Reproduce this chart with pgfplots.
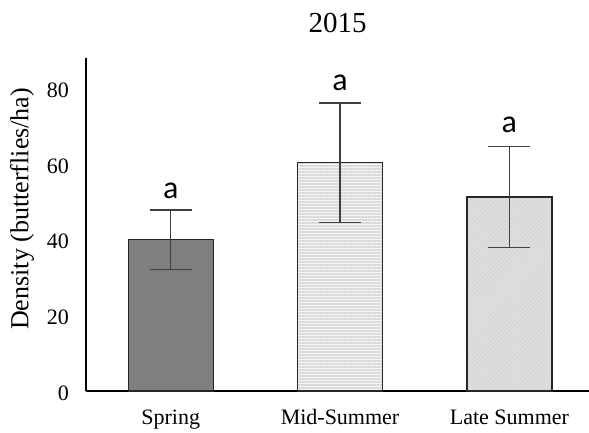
\documentclass[border=0pt]{standalone}
\usepackage{fontspec}
\setmainfont{Liberation Serif}
\newfontfamily\carlito{Carlito}
\usepackage{pgfplots}
\pgfplotsset{compat=1.18}
\usetikzlibrary{patterns.meta}
\definecolor{springfill}{HTML}{7F7F7F}
\definecolor{midfill}{HTML}{F5F5F5}
\definecolor{midline}{HTML}{D9D9D9}
\definecolor{latefill}{HTML}{DFDFDF}
\definecolor{lateline}{HTML}{CFCFCF}
\definecolor{barborder}{HTML}{262626}
\definecolor{errcol}{HTML}{404040}
\begin{document}
\begin{tikzpicture}
\begin{axis}[
  scale only axis,
  width=503bp, height=333bp,
  xmin=-0.5, xmax=2.47,
  ymin=0, ymax=88,
  axis lines*=left,
  axis line style={black, line width=1.2bp},
  xtick={0,1,2},
  xticklabels={Spring, Mid-Summer, Late Summer},
  ytick={0,20,40,60,80},
  major tick length=0pt,
  tick style={draw=none},
  /pgf/number format/assume math mode=true,
  yticklabel style={font=\fontsize{22bp}{26bp}\selectfont, inner sep=0pt, anchor=east, xshift=-17bp, yshift=-2bp},
  xticklabel style={font=\fontsize{22bp}{26bp}\selectfont, inner sep=0pt, anchor=north, text height=15bp, text depth=5bp, yshift=-18bp},
  ylabel={Density (butterflies/ha)},
  ylabel style={font=\fontsize{26bp}{30bp}\selectfont, at={(axis description cs:-0.1272,0.547)}, anchor=center, rotate=0},
  title={2015},
  title style={font=\fontsize{29bp}{34bp}\selectfont, at={(axis description cs:0.5,1)}, anchor=base, yshift=20bp},
  ybar, bar width=85bp, bar shift=0pt,
  clip=false,
]
\coordinate (O) at (rel axis cs:0,0);
\addplot[draw=barborder, line width=1.3bp, fill=springfill,
  error bars/.cd, y dir=both, y explicit, error mark=-,
  error bar style={errcol, line width=1.3bp},
  error mark options={errcol, line width=1.3bp, mark size=21bp, rotate=90}]
  coordinates {(0,40) +- (0,7.8)};
\addplot[draw=barborder, line width=1.3bp, fill=midfill,
  postaction={pattern={Lines[angle=0,distance=3bp,line width=1.8bp]}, pattern color=midline},
  error bars/.cd, y dir=both, y explicit, error mark=-,
  error bar style={errcol, line width=1.3bp},
  error mark options={errcol, line width=1.3bp, mark size=21bp, rotate=90}]
  coordinates {(1,60.3) +- (0,15.8)};
\addplot[draw=barborder, line width=1.3bp, fill=latefill,
  postaction={pattern={Lines[angle=45,distance=3bp,line width=0.5bp]}, pattern color=lateline},
  error bars/.cd, y dir=both, y explicit, error mark=-,
  error bar style={errcol, line width=1.3bp},
  error mark options={errcol, line width=1.3bp, mark size=21bp, rotate=90}]
  coordinates {(2,51.3) +- (0,13.4)};
\node[font=\carlito\fontsize{32bp}{36bp}\selectfont, anchor=base, inner sep=0pt] at (axis cs:0,47.8) [yshift=12bp] {a};
\node[font=\carlito\fontsize{32bp}{36bp}\selectfont, anchor=base, inner sep=0pt] at (axis cs:1,76.1) [yshift=13bp] {a};
\node[font=\carlito\fontsize{32bp}{36bp}\selectfont, anchor=base, inner sep=0pt] at (axis cs:2,64.7) [yshift=14bp] {a};
\end{axis}
\pgfresetboundingbox
\path[use as bounding box] ([shift={(-86bp,-42bp)}]O) rectangle ([shift={(503bp,391bp)}]O);
\end{tikzpicture}
\end{document}
